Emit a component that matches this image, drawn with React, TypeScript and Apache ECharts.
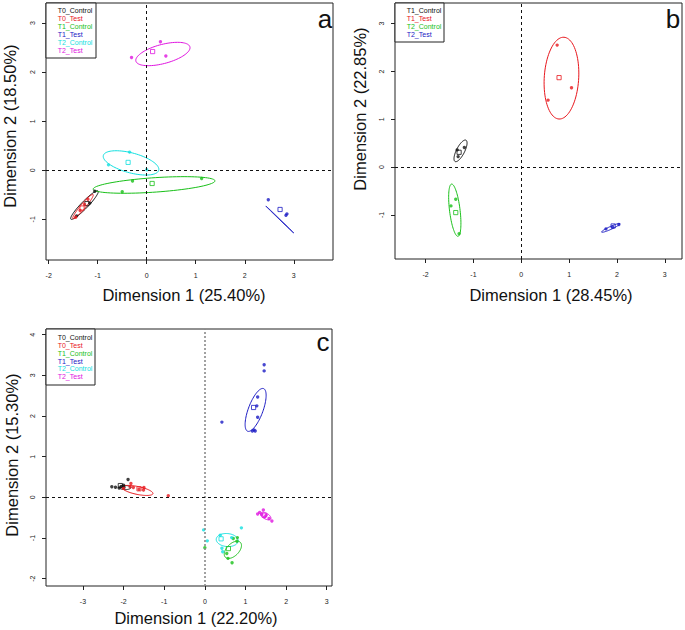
import React, { useEffect, useRef } from "react";
import * as echarts from "echarts";

const BLACK = "#111111";
const RED = "#e8161c";
const GREEN = "#18c018";
const BLUE = "#1a1ac4";
const CYAN = "#12e0e0";
const MAGENTA = "#e014e0";

// ---------- Panel a ----------
const groupsA = ["T0_Control", "T0_Test", "T1_Control", "T1_Test", "T2_Control", "T2_Test"];
const colorsA = [BLACK, RED, GREEN, BLUE, CYAN, MAGENTA];
const pointsA: number[][][] = [
  [[-1.16, -0.67], [-1.06, -0.43], [-1.43, -0.93]],
  [[-1.45, -0.96], [-1.36, -0.82], [-1.27, -0.7], [-1.2, -0.59]],
  [[-0.29, -0.22], [-0.5, -0.44], [1.12, -0.17]],
  [[2.48, -0.6], [2.84, -0.92], [2.86, -0.89]],
  [[-0.35, 0.37], [-0.78, 0.11], [0.0, 0.01]],
  [[-0.31, 2.3], [0.28, 2.62], [0.39, 2.33]],
];
const centroidsA: number[][] = [
  [-1.22, -0.68], [-1.32, -0.77], [0.11, -0.27], [2.72, -0.8], [-0.38, 0.16], [0.12, 2.42],
];
// [centre x, centre y, semi-axis a, semi-axis b, angle in degrees]
const ellipsesA: number[][] = [
  [-1.27, -0.71, 0.4, 0.07, 46],
  [-1.3, -0.74, 0.32, 0.05, 50],
  [0.15, -0.3, 1.245, 0.147, 3.9],
  [2.715, -1.005, 0.395, 0.004, -44],
  [-0.32, 0.15, 0.585, 0.203, -15],
  [0.33, 2.37, 0.57, 0.195, 14.8],
];
const xTicksA = [-2, -1, 0, 1, 2, 3];
const yTicksA = [-1, 0, 1, 2, 3];
const xRangeA = [-2.055, 3.8];
const yRangeA = [-1.83, 3.41];
const xTitleA = "Dimension 1 (25.40%)";
const yTitleA = "Dimension 2 (18.50%)";

// ---------- Panel b ----------
const groupsB = ["T1_Control", "T1_Test", "T2_Control", "T2_Test"];
const colorsB = [BLACK, RED, GREEN, BLUE];
const pointsB: number[][][] = [
  [[-1.19, 0.41], [-1.34, 0.36], [-1.32, 0.22]],
  [[0.75, 2.55], [1.05, 1.66], [0.56, 1.4]],
  [[-1.37, -0.67], [-1.47, -0.81], [-1.3, -1.39]],
  [[1.77, -1.29], [1.91, -1.25], [2.04, -1.2]],
];
const centroidsB: number[][] = [
  [-1.3, 0.31], [0.79, 1.87], [-1.37, -0.95], [1.92, -1.23],
];
const ellipsesB: number[][] = [
  [-1.27, 0.34, 0.25, 0.085, 63],
  [0.84, 1.86, 0.856, 0.36, 86.5],
  [-1.39, -0.9, 0.55, 0.11, 97],
  [1.87, -1.27, 0.21, 0.03, 24.7],
];
const xTicksB = [-2, -1, 0, 1, 2, 3];
const yTicksB = [-1, 0, 1, 2, 3];
const xRangeB = [-2.64, 3.36];
const yRangeB = [-1.92, 3.43];
const xTitleB = "Dimension 1 (28.45%)";
const yTitleB = "Dimension 2 (22.85%)";

// ---------- Panel c ----------
const groupsC = ["T0_Control", "T0_Test", "T1_Control", "T1_Test", "T2_Control", "T2_Test"];
const colorsC = [BLACK, RED, GREEN, BLUE, CYAN, MAGENTA];
const pointsC: number[][][] = [
  [[-2.29, 0.26], [-2.2, 0.25], [-2.11, 0.23], [-2.0, 0.3], [-1.89, 0.44], [-1.99, 0.25], [-2.06, 0.27]],
  [[-2.0, 0.22], [-1.84, 0.26], [-1.82, 0.34], [-1.76, 0.24], [-1.62, 0.2], [-1.51, 0.18], [-1.5, 0.24], [-0.9, 0.04]],
  [[0.0, -1.24], [0.7, -1.01], [0.8, -0.99], [0.79, -1.08], [0.54, -1.38], [0.57, -1.5], [0.67, -1.61]],
  [[1.46, 3.26], [1.46, 3.11], [0.42, 1.85], [1.3, 2.47], [1.28, 2.25], [1.3, 1.97], [1.17, 1.63], [1.24, 1.63], [1.21, 1.66]],
  [[-0.03, -0.8], [0.06, -1.07], [0.38, -0.93], [0.66, -0.99], [0.42, -1.25], [0.44, -1.34], [0.9, -0.75]],
  [[1.3, -0.41], [1.35, -0.37], [1.44, -0.31], [1.4, -0.42], [1.47, -0.48], [1.51, -0.44], [1.58, -0.52], [1.65, -0.58]],
];
const centroidsC: number[][] = [
  [-2.08, 0.29], [-1.62, 0.21], [0.58, -1.26], [1.2, 2.21], [0.4, -1.02], [1.46, -0.44],
];
const ellipsesC: number[][] = [
  [-1.96, 0.24, 0.14, 0.05, 0],
  [-1.66, 0.17, 0.39, 0.097, -11.7],
  [0.69, -1.29, 0.26, 0.15, 45],
  [1.25, 2.15, 0.56, 0.18, 69.5],
  [0.55, -1.05, 0.27, 0.16, -5],
  [1.5, -0.46, 0.14, 0.07, -30],
];
const xTicksC = [-3, -2, -1, 0, 1, 2, 3];
const yTicksC = [-2, -1, 0, 1, 2, 3, 4];
const xRangeC = [-3.91, 3.13];
const yRangeC = [-2.18, 4.14];
const xTitleC = "Dimension 1 (22.20%)";
const yTitleC = "Dimension 2 (15.30%)";

const FONT = "'Liberation Sans', Arial, Helvetica, sans-serif";

const renderEllipse = (color: string) => (_params: any, api: any) => {
  const cx = api.value(0);
  const cy = api.value(1);
  const a = api.value(2);
  const b = api.value(3);
  const ang = (api.value(4) * Math.PI) / 180;
  const pts: number[][] = [];
  const n = 90;
  for (let k = 0; k <= n; k++) {
    const t = (k / n) * 2 * Math.PI;
    const x = cx + a * Math.cos(t) * Math.cos(ang) - b * Math.sin(t) * Math.sin(ang);
    const y = cy + a * Math.cos(t) * Math.sin(ang) + b * Math.sin(t) * Math.cos(ang);
    pts.push(api.coord([x, y]));
  }
  return {
    type: "polyline",
    shape: { points: pts },
    style: { stroke: color, fill: null, lineWidth: 1 },
    silent: true,
  };
};

function makeAxes(idx: number, xr: number[], yr: number[], xt: number[], yt: number[]) {
  const common = {
    gridIndex: idx,
    type: "value",
    splitLine: { show: false },
    axisLine: { show: false, onZero: false },
    axisTick: { show: true, length: 4, lineStyle: { color: "#222", width: 1 } },
    axisLabel: { color: "#222", fontSize: 7, fontFamily: FONT },
  };
  const x = {
    ...common,
    position: "bottom",
    min: xr[0],
    max: xr[1],
    axisTick: { ...common.axisTick, customValues: xt },
    axisLabel: { ...common.axisLabel, margin: 12, customValues: xt },
  };
  const y = {
    ...common,
    position: "left",
    min: yr[0],
    max: yr[1],
    axisTick: { ...common.axisTick, customValues: yt },
    axisLabel: { ...common.axisLabel, margin: 10, rotate: 90, customValues: yt },
  };
  return { x, y };
}

function makeSeries(
  idx: number,
  groups: string[],
  colors: string[],
  points: number[][][],
  centroids: number[][],
  ellipses: number[][],
  grayVertical: boolean
) {
  const out: any[] = [];
  groups.forEach((g, i) => {
    out.push({
      type: "custom",
      name: g,
      xAxisIndex: idx,
      yAxisIndex: idx,
      renderItem: renderEllipse(colors[i]),
      data: [ellipses[i]],
      encode: { x: [0], y: [1] },
      silent: true,
      z: 2,
    });
    out.push({
      type: "scatter",
      name: g,
      xAxisIndex: idx,
      yAxisIndex: idx,
      data: points[i],
      symbol: "circle",
      symbolSize: 3.4,
      itemStyle: { color: colors[i] },
      silent: true,
      z: 3,
    });
    out.push({
      type: "scatter",
      name: g,
      xAxisIndex: idx,
      yAxisIndex: idx,
      data: [centroids[i]],
      symbol: "rect",
      symbolSize: 4.2,
      itemStyle: { color: "rgba(255,255,255,0)", borderColor: colors[i], borderWidth: 1 },
      silent: true,
      z: 3,
    });
  });
  out.push({
    type: "line",
    xAxisIndex: idx,
    yAxisIndex: idx,
    data: [],
    silent: true,
    markLine: {
      silent: true,
      symbol: ["none", "none"],
      label: { show: false },
      lineStyle: { type: [3, 3], color: "#111", width: 1 },
      data: [
        grayVertical
          ? { xAxis: 0, lineStyle: { type: [2, 2], color: "#8a8a8a", width: 1.6 } }
          : { xAxis: 0 },
        { yAxis: 0 },
      ],
    },
    z: 1,
  });
  return out;
}

function legendGraphic(x: number, y: number, w: number, h: number, names: string[], colors: string[], tx: number, ty: number, step: number) {
  const children: any[] = [
    { type: "rect", shape: { x, y, width: w, height: h }, style: { fill: "#fff", stroke: "#222", lineWidth: 1 } },
  ];
  names.forEach((n, i) => {
    children.push({
      type: "text",
      x: tx,
      y: ty + i * step,
      style: { text: n, fill: colors[i], font: `7px ${FONT}`, verticalAlign: "middle", align: "left" },
    });
  });
  return { type: "group", children, z: 10 };
}

function titleText(text: string, x: number, y: number, rotate: boolean, size = 16.5) {
  return {
    type: "text",
    x,
    y,
    rotation: rotate ? Math.PI / 2 : 0,
    style: { text, fill: "#111", font: `${size}px ${FONT}`, align: "center", verticalAlign: "middle" },
    z: 10,
  };
}

export default function App() {
  const ref = useRef<HTMLDivElement>(null);
  useEffect(() => {
    if (!ref.current) return;
    const chart = echarts.init(ref.current, undefined, { renderer: "svg" });
    const a = makeAxes(0, xRangeA, yRangeA, xTicksA, yTicksA);
    const b = makeAxes(1, xRangeB, yRangeB, xTicksB, yTicksB);
    const c = makeAxes(2, xRangeC, yRangeC, xTicksC, yTicksC);
    const gridStyle = { show: true, borderColor: "#222", borderWidth: 1, backgroundColor: "transparent", containLabel: false };
    chart.setOption({
      animation: false,
      backgroundColor: "#ffffff",
      grid: [
        { ...gridStyle, left: 46, top: 3, width: 287, height: 257 },
        { ...gridStyle, left: 395, top: 3, width: 287, height: 256 },
        { ...gridStyle, left: 46, top: 329, width: 286, height: 257 },
      ],
      xAxis: [a.x, b.x, c.x],
      yAxis: [a.y, b.y, c.y],
      series: [
        ...makeSeries(0, groupsA, colorsA, pointsA, centroidsA, ellipsesA, false),
        ...makeSeries(1, groupsB, colorsB, pointsB, centroidsB, ellipsesB, false),
        ...makeSeries(2, groupsC, colorsC, pointsC, centroidsC, ellipsesC, true),
      ],
      graphic: [
        legendGraphic(46, 3, 50, 55, groupsA, colorsA, 57.7, 10.7, 7.9),
        legendGraphic(395, 3, 49, 39, groupsB, colorsB, 406.7, 10.7, 7.9),
        legendGraphic(46, 329, 49, 56, groupsC, colorsC, 57.7, 337.3, 7.9),
        titleText(xTitleA, 184, 295, false),
        titleText(yTitleA, 10, 126, true),
        titleText(xTitleB, 551, 295, false),
        titleText(yTitleB, 360, 109, true),
        titleText(xTitleC, 196, 618, false),
        titleText(yTitleC, 12, 455, true),
        titleText("a", 325, 19, false, 26),
        titleText("b", 673, 19, false, 26),
        titleText("c", 323, 342, false, 26),
      ],
    });
    return () => chart.dispose();
  }, []);
  return (
    <div
      ref={ref}
      style={{ position: "fixed", left: 0, top: 0, width: 685, height: 630, background: "#fff" }}
    />
  );
}
